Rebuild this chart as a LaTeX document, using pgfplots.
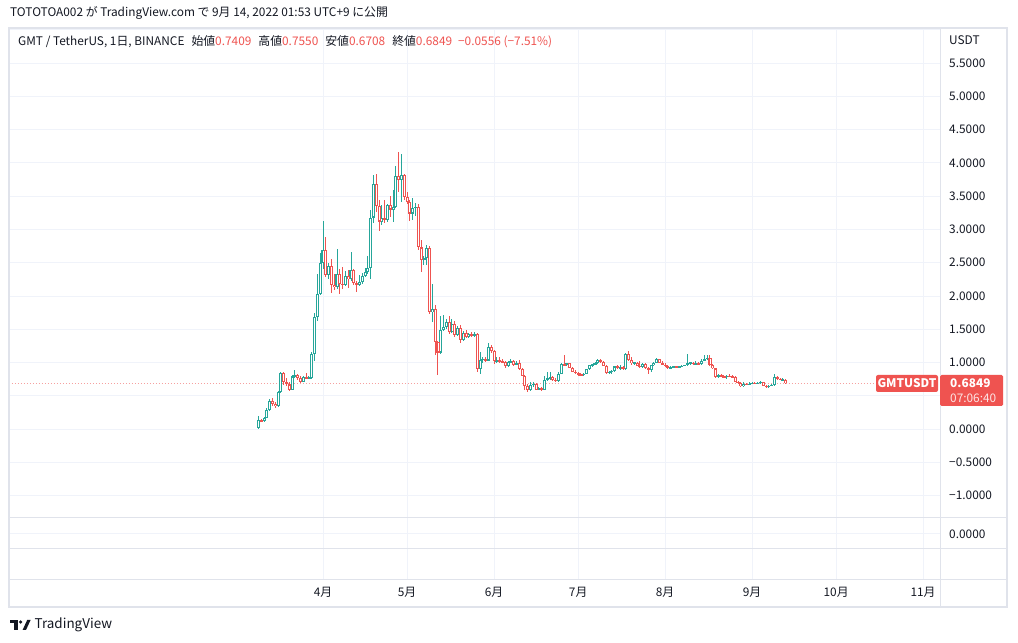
\documentclass[border=0pt]{standalone}
\usepackage{fontspec}
\setmainfont{Noto Sans CJK JP}
\usepackage{pgfplots}
\pgfplotsset{compat=1.18}
\usepackage{pgfplotstable}
\definecolor{upc}{HTML}{26A69A}
\definecolor{dnc}{HTML}{EF5350}
\definecolor{gridc}{HTML}{F0F3FA}
\definecolor{framec}{HTML}{E0E3EB}
\definecolor{txt}{HTML}{131722}
\newcommand{\tvf}{\fontsize{11.9}{14}\selectfont}

\pgfplotstableread{
x O H L C
0 0.01 0.19 0.00 0.13
2 0.12 0.18 0.11 0.17
3 0.17 0.32 0.16 0.29
4 0.29 0.45 0.27 0.42
7 0.34 0.57 0.33 0.55
8 0.55 0.85 0.54 0.84
12 0.59 0.81 0.58 0.79
13 0.79 0.89 0.77 0.81
16 0.71 0.80 0.70 0.78
18 0.76 0.79 0.75 0.78
19 0.77 1.16 0.75 1.13
20 1.13 1.75 1.03 1.68
21 1.68 2.33 1.62 2.03
22 2.03 2.64 2.02 2.49
23 2.49 3.13 2.40 2.69
25 2.32 2.50 2.25 2.45
28 2.13 2.71 2.10 2.33
31 2.17 2.38 2.15 2.30
33 2.25 2.66 2.22 2.39
36 2.17 2.32 2.15 2.21
37 2.21 2.35 2.18 2.30
38 2.30 2.42 2.28 2.36
39 2.36 2.60 2.33 2.42
40 2.42 3.29 2.25 3.18
41 3.18 3.82 3.10 3.69
44 3.12 3.37 3.07 3.17
46 3.14 3.39 3.11 3.37
48 3.30 3.59 3.12 3.34
49 3.34 3.95 3.32 3.80
51 3.75 4.14 3.42 3.82
55 3.24 3.47 3.15 3.33
56 3.33 3.40 3.20 3.34
59 2.54 2.60 2.46 2.57
60 2.57 2.77 2.47 2.72
62 1.76 2.18 1.61 1.80
65 1.15 1.70 1.13 1.49
66 1.49 1.71 1.47 1.54
67 1.54 1.66 1.50 1.61
69 1.46 1.65 1.44 1.58
71 1.42 1.55 1.40 1.52
73 1.34 1.47 1.32 1.44
75 1.39 1.45 1.37 1.43
77 1.40 1.46 1.39 1.43
79 0.90 1.16 0.82 1.04
80 1.04 1.08 1.00 1.06
82 1.03 1.30 1.02 1.24
85 1.02 1.08 0.99 1.04
89 0.94 1.02 0.93 1.01
90 1.01 1.05 0.99 1.02
92 0.97 1.02 0.96 0.99
97 0.58 0.70 0.57 0.66
98 0.66 0.70 0.63 0.68
100 0.59 0.63 0.58 0.61
102 0.59 0.80 0.58 0.74
103 0.74 0.85 0.72 0.76
104 0.76 0.86 0.74 0.78
107 0.72 0.85 0.71 0.83
108 0.83 0.99 0.82 0.98
110 0.96 1.00 0.95 0.99
116 0.81 0.84 0.80 0.83
117 0.83 0.90 0.82 0.90
118 0.90 0.97 0.89 0.96
119 0.96 0.98 0.93 0.97
120 0.97 1.01 0.96 1.00
121 1.00 1.05 0.98 1.04
125 0.84 0.87 0.82 0.86
126 0.86 0.88 0.83 0.87
127 0.87 0.95 0.86 0.94
129 0.91 0.97 0.89 0.93
131 0.90 1.14 0.89 1.13
134 0.99 1.01 0.97 1.00
137 0.93 0.99 0.92 0.98
140 0.88 0.97 0.86 0.96
141 0.96 1.01 0.95 1.00
142 1.00 1.07 0.99 1.05
147 0.91 0.94 0.90 0.93
148 0.93 0.95 0.91 0.94
150 0.92 0.95 0.91 0.94
151 0.94 0.96 0.93 0.95
152 0.95 0.97 0.94 0.96
153 0.96 1.13 0.95 0.99
154 0.99 1.01 0.97 1.00
156 0.98 1.03 0.97 0.99
158 0.98 1.06 0.97 1.03
159 1.03 1.12 1.02 1.06
160 1.06 1.12 1.04 1.07
164 0.78 0.82 0.77 0.81
167 0.78 0.81 0.75 0.80
173 0.64 0.70 0.63 0.68
175 0.67 0.70 0.66 0.68
176 0.68 0.70 0.67 0.69
178 0.68 0.70 0.67 0.69
179 0.69 0.72 0.68 0.71
182 0.63 0.66 0.62 0.65
183 0.65 0.67 0.64 0.66
184 0.66 0.83 0.65 0.78
187 0.74 0.76 0.73 0.7409
}\greentab

\pgfplotstableread{
x O H L C
1 0.13 0.15 0.11 0.12
5 0.42 0.47 0.35 0.38
6 0.38 0.40 0.32 0.34
9 0.84 0.85 0.66 0.70
10 0.70 0.76 0.64 0.67
11 0.67 0.70 0.57 0.59
14 0.81 0.83 0.74 0.77
15 0.77 0.79 0.69 0.71
17 0.78 0.84 0.75 0.76
24 2.69 2.88 2.28 2.32
26 2.45 2.55 2.05 2.17
27 2.17 2.33 2.09 2.13
29 2.33 2.40 2.03 2.18
30 2.18 2.43 2.10 2.17
32 2.30 2.39 2.12 2.25
34 2.39 2.40 2.17 2.20
35 2.20 2.23 2.06 2.17
42 3.69 3.84 3.26 3.35
43 3.35 3.45 2.97 3.12
45 3.17 3.45 3.10 3.14
47 3.37 3.50 3.19 3.30
50 3.80 4.17 3.57 3.75
52 3.82 3.84 3.45 3.49
53 3.49 3.57 3.38 3.42
54 3.42 3.45 3.13 3.24
57 3.34 3.39 2.69 2.73
58 2.73 2.84 2.36 2.54
61 2.72 2.75 1.73 1.76
63 1.80 1.86 1.11 1.31
64 1.31 1.33 0.81 1.15
68 1.61 1.70 1.43 1.46
70 1.58 1.62 1.38 1.42
72 1.52 1.56 1.30 1.34
74 1.44 1.49 1.37 1.39
76 1.43 1.46 1.38 1.40
78 1.43 1.45 0.86 0.90
81 1.06 1.09 1.01 1.03
83 1.24 1.27 1.14 1.17
84 1.17 1.19 0.98 1.02
86 1.04 1.08 1.00 1.02
87 1.02 1.05 0.99 1.01
88 1.01 1.03 0.92 0.94
91 1.02 1.04 0.95 0.97
93 0.99 1.04 0.89 0.90
94 0.90 0.91 0.79 0.80
95 0.80 0.81 0.59 0.65
96 0.65 0.67 0.55 0.58
99 0.68 0.69 0.58 0.59
101 0.61 0.63 0.57 0.59
105 0.78 0.80 0.72 0.74
106 0.74 0.77 0.71 0.72
109 0.98 1.11 0.94 0.96
111 0.99 1.00 0.91 0.92
112 0.92 0.93 0.85 0.86
113 0.86 0.88 0.83 0.84
114 0.84 0.85 0.79 0.82
115 0.82 0.84 0.80 0.81
122 1.04 1.06 1.00 1.01
123 1.01 1.02 0.94 0.95
124 0.95 0.96 0.83 0.84
128 0.94 0.97 0.90 0.91
130 0.93 0.95 0.89 0.90
132 1.13 1.17 1.03 1.04
133 1.04 1.08 0.97 0.99
135 1.00 1.01 0.94 0.95
136 0.95 1.03 0.92 0.93
138 0.98 0.99 0.90 0.91
139 0.91 0.93 0.82 0.88
143 1.05 1.06 0.99 1.00
144 1.00 1.02 0.96 0.97
145 0.97 0.99 0.93 0.94
146 0.94 0.96 0.90 0.91
149 0.94 0.95 0.91 0.92
155 1.00 1.01 0.97 0.98
157 0.99 1.01 0.97 0.98
161 1.07 1.11 0.95 0.96
162 0.96 0.98 0.90 0.91
163 0.91 0.92 0.77 0.78
165 0.81 0.82 0.78 0.79
166 0.79 0.81 0.77 0.78
168 0.80 0.82 0.78 0.79
169 0.79 0.81 0.77 0.78
170 0.78 0.79 0.70 0.71
171 0.71 0.72 0.68 0.69
172 0.69 0.70 0.63 0.64
174 0.68 0.69 0.66 0.67
177 0.69 0.70 0.67 0.68
180 0.71 0.71 0.64 0.65
181 0.65 0.66 0.62 0.63
185 0.78 0.80 0.74 0.75
186 0.75 0.76 0.73 0.74
188 0.7409 0.7550 0.6708 0.6849
}\redtab

\pgfplotsset{
  cbar/.style 2 args={draw=none, mark=none, forget plot,
    error bars/.cd, y dir=both, y explicit, error mark=none,
    error bar style={solid, line width=#2, draw=#1, line cap=butt}},
}

\begin{document}
\begin{tikzpicture}[x=1bp,y=1bp]
\path[fill=white] (0,0) rectangle (1018,643);
\node[anchor=west, inner sep=0pt, text=txt, font=\tvf] at (10,630)
  {TOTOTOA002 が TradingView.com で 9月 14, 2022 01:53 UTC+9 に公開};

\begin{axis}[
  at={(9bp,125bp)}, anchor=south west, scale only axis,
  width=931bp, height=490bp,
  xmin=-88.98, xmax=243.04, ymin=-1.338, ymax=6.030,
  axis line style={draw=none}, major tick length=0pt,
  xtick={23,53,84,114,145,176,206,237}, xticklabels={},
  ytick={-1,-0.5,0,0.5,1,1.5,2,2.5,3,3.5,4,4.5,5,5.5,6},
  yticklabels={−1.0000,−0.5000,0.0000,{},1.0000,1.5000,2.0000,2.5000,3.0000,3.5000,4.0000,4.5000,5.0000,5.5000,{}},
  yticklabel pos=right,
  yticklabel style={anchor=west, inner sep=0pt, xshift=9bp, font=\tvf, text=txt},
  grid=major, major grid style={draw=gridc, line width=1bp},
]
\addplot[forget plot, draw=dnc!55, line width=1bp, dash pattern=on 1bp off 2bp]
  coordinates {(-89,0.6849) (220.2,0.6849)};
% green
\addplot[cbar={upc}{1bp}] table[x=x, y expr={(\thisrow{H}+\thisrow{L})/2}, y error expr={(\thisrow{H}-\thisrow{L})/2}] {\greentab};
\addplot[cbar={upc}{3.1bp}] table[x=x, y expr={(\thisrow{O}+\thisrow{C})/2}, y error expr={max(abs(\thisrow{C}-\thisrow{O})/2,0.0076)}] {\greentab};
\addplot[cbar={white}{0.9bp}] table[x=x, y expr={(\thisrow{O}+\thisrow{C})/2}, y error expr={max(abs(\thisrow{C}-\thisrow{O})/2-0.016,0)}] {\greentab};
% red
\addplot[cbar={dnc}{1bp}] table[x=x, y expr={(\thisrow{H}+\thisrow{L})/2}, y error expr={(\thisrow{H}-\thisrow{L})/2}] {\redtab};
\addplot[cbar={dnc}{3.1bp}] table[x=x, y expr={(\thisrow{O}+\thisrow{C})/2}, y error expr={max(abs(\thisrow{C}-\thisrow{O})/2,0.0076)}] {\redtab};
\addplot[cbar={white}{0.9bp}] table[x=x, y expr={(\thisrow{O}+\thisrow{C})/2}, y error expr={max(abs(\thisrow{C}-\thisrow{O})/2-0.016,0)}] {\redtab};
\end{axis}

\begin{axis}[
  at={(9bp,63bp)}, anchor=south west, scale only axis,
  width=931bp, height=62bp,
  xmin=-88.98, xmax=243.04, ymin=0, ymax=62,
  axis line style={draw=none}, major tick length=0pt,
  xtick={23,53,84,114,145,176,206,237},
  xticklabels={4月,5月,6月,7月,8月,9月,10月,11月},
  xticklabel style={anchor=center, inner sep=0pt, yshift=-12bp, font=\tvf, text=txt},
  ytick={46}, yticklabels={0.0000},
  yticklabel pos=right,
  yticklabel style={anchor=west, inner sep=0pt, xshift=9bp, font=\tvf, text=txt},
  grid=major, major grid style={draw=gridc, line width=1bp},
]
\addplot[draw=none, forget plot] coordinates {(0,10) (1,10)};
\end{axis}

% frame and pane separators
\draw[framec, line width=1.2bp] (9,615) rectangle (1007,36);
\draw[framec, line width=1bp] (940,615) -- (940,36);
\draw[framec, line width=1bp] (9,125) -- (1007,125);
\draw[framec, line width=1bp] (9,94) -- (1007,94);
\draw[framec, line width=1bp] (9,63) -- (1007,63);

% header
\node[anchor=west, inner sep=0pt, text=txt, font=\tvf] at (18,601)
  {GMT / TetherUS, 1日, BINANCE\hspace{7bp}始値\textcolor{dnc}{0.7409}\hspace{7bp}高値\textcolor{dnc}{0.7550}\hspace{7bp}安値\textcolor{dnc}{0.6708}\hspace{7bp}終値\textcolor{dnc}{0.6849}\hspace{6bp}\textcolor{dnc}{−0.0556 (−7.51\%)}};
\node[anchor=west, inner sep=0pt, text=txt, font=\tvf] at (949,603) {USDT};

% last price labels
\fill[dnc, rounded corners=2bp] (876,251) rectangle (938,268);
\node[text=white, inner sep=0pt, font=\tvf\bfseries] at (907,259.5) {GMTUSDT};
\fill[dnc, rounded corners=1.5bp] (940,237) rectangle (1003,268);
\node[anchor=west, text=white, inner sep=0pt, font=\tvf\bfseries] at (950,260) {0.6849};
\node[anchor=west, text=white!85!dnc, inner sep=0pt, font=\tvf] at (950,245) {07:06:40};

% logo
\fill[txt] (10,23) rectangle (17.5,19.6);
\fill[txt] (13.8,23) rectangle (17.5,13);
\fill[txt] (20.6,21) circle (1.8bp);
\fill[txt] (22.6,13) -- (27.2,23) -- (30.6,23) -- (26,13) -- cycle;
\node[anchor=west, inner sep=0pt, text=txt, font=\fontsize{13.5}{15}\selectfont] at (34.5,18) {TradingView};
\end{tikzpicture}
\end{document}
